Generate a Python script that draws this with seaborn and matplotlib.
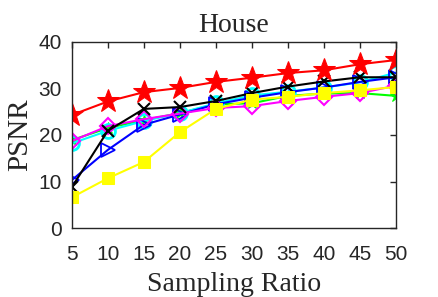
import numpy as np
import pandas as pd
import seaborn as sns
import matplotlib.pyplot as plt

sns.set_theme(style="white")
plt.rcParams['font.family'] = ['Liberation Serif', 'DejaVu Serif']

ratios = [5, 10, 15, 20, 25, 30, 35, 40, 45, 50]

psnr_green = [18.9, 21.5, 23.2, 24.7, 26.6, 26.8, 28.4, 28.9, 29.0, 28.4]
psnr_cyan = [18.2, 20.9, 23.0, 24.7, 26.8, 28.5, 29.3, 30.2, 31.3, 33.4]
psnr_blue = [10.3, 16.8, 22.2, 24.4, 26.6, 28.0, 29.2, 30.2, 31.4, 32.4]
psnr_magenta = [18.7, 21.9, 23.4, 24.6, 25.8, 26.2, 27.3, 28.2, 29.0, 30.6]
psnr_black = [8.8, 20.9, 25.6, 26.0, 27.3, 29.0, 30.4, 31.5, 32.4, 32.4]
psnr_yellow = [6.6, 10.7, 14.2, 20.6, 25.6, 27.6, 28.2, 29.0, 29.6, 30.3]
psnr_red = [24.3, 27.2, 29.2, 30.1, 31.4, 32.3, 33.3, 33.9, 35.2, 36.1]

fig = plt.figure(figsize=(4.38, 2.97), dpi=100)
ax = fig.add_axes([0.164, 0.232, 0.740, 0.627])

series = [
    (psnr_green, dict(color="#00ff00", marker="*", markersize=9, markerfacecolor="#00ff00")),
    (psnr_cyan, dict(color="#00ffff", marker="o", markersize=10, markerfacecolor="none", markeredgewidth=2)),
    (psnr_blue, dict(color="#0000ff", marker=">", markersize=10, markerfacecolor="none", markeredgewidth=1.3)),
    (psnr_magenta, dict(color="#ff00ff", marker="D", markersize=8, markerfacecolor="none", markeredgewidth=1.5)),
    (psnr_black, dict(color="black", marker="x", markersize=9, markeredgewidth=1.5)),
    (psnr_yellow, dict(color="#ffff00", marker="s", markersize=9, markerfacecolor="#ffff00")),
    (psnr_red, dict(color="#ff0000", marker="*", markersize=17, markerfacecolor="#ff0000")),
]
for vals, kw in series:
    sns.lineplot(x=ratios, y=vals, ax=ax, linewidth=1.5, markeredgecolor=kw["color"], **kw)

ax.set_xlim(5, 50)
ax.set_ylim(0, 40)
ax.set_xticks(ratios)
ax.set_yticks([0, 10, 20, 30, 40])
ax.tick_params(direction="in", top=True, right=True, length=4, width=1, labelsize=15,
               colors="#262626")
ax.tick_params(axis="x", pad=12)
ax.tick_params(axis="y", pad=7)
for lbl in ax.get_xticklabels() + ax.get_yticklabels():
    lbl.set_family(['Liberation Sans', 'DejaVu Sans'])
for s in ax.spines.values():
    s.set_color("#262626")
    s.set_linewidth(1)
ax.set_title("House", fontsize=20, pad=7)
ax.set_xlabel("Sampling Ratio", fontsize=20, labelpad=6)
ax.set_ylabel("PSNR", fontsize=21, labelpad=4)

fig.savefig("out.png", dpi=100)
